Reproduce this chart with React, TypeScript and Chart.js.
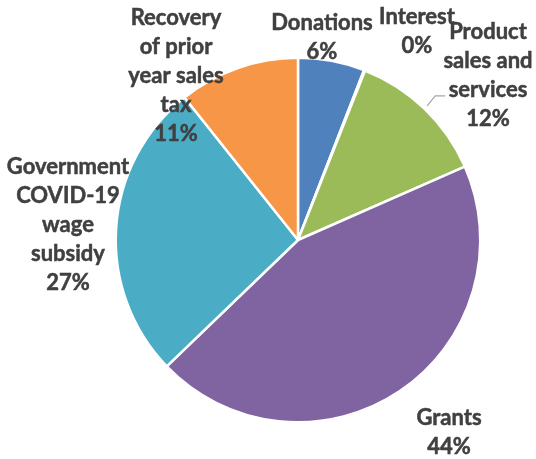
import { useEffect, useRef } from "react";
import { Chart, registerables } from "chart.js";

Chart.register(...registerables);

const categories = [
  "Donations",
  "Interest",
  "Product sales and services",
  "Grants",
  "Government COVID-19 wage subsidy",
  "Recovery of prior year sales tax",
];
const labelLines = [
  ["Donations"],
  ["Interest"],
  ["Product", "sales and", "services"],
  ["Grants"],
  ["Government", "COVID-19", "wage", "subsidy"],
  ["Recovery", "of prior", "year sales", "tax"],
];
const values = [5.9, 0.1, 12.4, 44.4, 26.5, 10.7];
const colors = ["#4F81BD", "#8EB4E3", "#9BBB59", "#8064A2", "#4BACC6", "#F79646"];
// label block centres relative to pie centre (layout only)
const labelOffsets = [
  [24, -203],
  [119, -209],
  [190, -165],
  [151, 192],
  [-230, -15],
  [-122, -164],
];
const leaderFor = [2];

const FONT = "bold 22px Lato";
const LINE_H = 29;

const labelPlugin = {
  id: "pieLabels",
  afterDatasetsDraw(chart: any) {
    const ctx = chart.ctx;
    const meta = chart.getDatasetMeta(0);
    const data = chart.data.datasets[0].data as number[];
    const total = data.reduce((a, b) => a + b, 0);
    ctx.save();
    meta.data.forEach((arc: any, i: number) => {
      const { x, y, outerRadius, startAngle, endAngle } = arc.getProps(
        ["x", "y", "outerRadius", "startAngle", "endAngle"],
        true
      );
      const pct = Math.round((data[i] / total) * 100) + "%";
      const lines = [...labelLines[i], pct];
      const cx = x + labelOffsets[i][0];
      const cy = y + labelOffsets[i][1];
      ctx.fillStyle = "#404040";
      ctx.strokeStyle = "#404040";
      ctx.lineWidth = 0.5;
      ctx.font = FONT;
      ctx.textAlign = "center";
      ctx.textBaseline = "middle";
      lines.forEach((t, k) => {
        const ty = cy + (k - (lines.length - 1) / 2) * LINE_H;
        ctx.fillText(t, cx, ty);
        ctx.strokeText(t, cx, ty);
      });
      if (leaderFor.includes(i)) {
        const mid = (startAngle + endAngle) / 2;
        const sx = x + Math.cos(mid) * (outerRadius + 4);
        const sy = y + Math.sin(mid) * (outerRadius + 4);
        ctx.strokeStyle = "#A6A6A6";
        ctx.lineWidth = 1.2;
        ctx.beginPath();
        ctx.moveTo(sx, sy);
        ctx.lineTo(sx + 8, sy - 10);
        ctx.lineTo(sx + 18, sy - 10);
        ctx.stroke();
      }
    });
    ctx.restore();
  },
};

export default function App() {
  const ref = useRef<HTMLCanvasElement | null>(null);
  useEffect(() => {
    if (!ref.current) return;
    const chart = new Chart(ref.current, {
      type: "pie",
      data: {
        labels: categories,
        datasets: [
          {
            data: values,
            backgroundColor: colors,
            borderColor: "#FFFFFF",
            borderWidth: 2.5,
          },
        ],
      },
      options: {
        responsive: false,
        animation: false,
        rotation: 0,
        layout: { padding: { left: 114.5, right: 54.5, top: 56.5, bottom: 35.5 } },
        plugins: {
          legend: { display: false },
          tooltip: { enabled: false },
        },
      },
      plugins: [labelPlugin],
    });
    return () => chart.destroy();
  }, []);
  return (
    <div style={{ position: "fixed", left: 0, top: 0, width: 536, height: 459, background: "#fff" }}>
      <canvas ref={ref} width={536} height={459} style={{ width: 536, height: 459 }} />
    </div>
  );
}
